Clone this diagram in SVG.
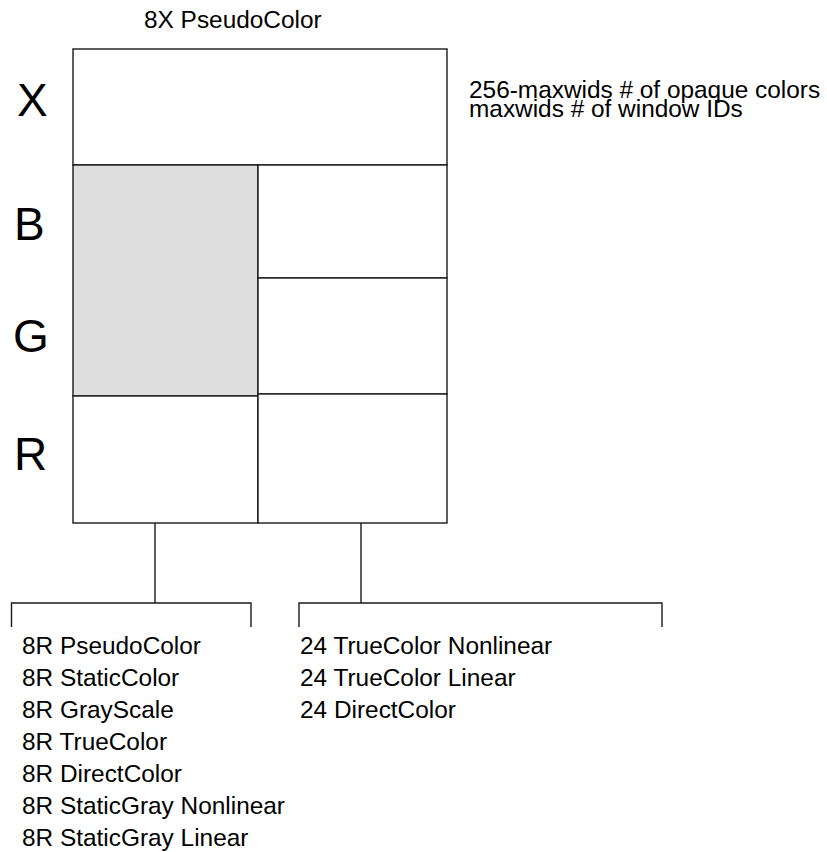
<svg xmlns="http://www.w3.org/2000/svg" width="827" height="852" viewBox="0 0 827 852">
  <style>
    .ln { fill: none; stroke: #1a1a1a; stroke-width: 1.4; }
    .cell { fill: #ffffff; stroke: #1a1a1a; stroke-width: 1.4; }
    .grey { fill: #dedede; stroke: #1a1a1a; stroke-width: 1.4; }
    .t { font-family: "Liberation Sans", Arial, Helvetica, sans-serif; font-size: 24.4px; fill: #000; }
    .big { font-family: "Liberation Sans", Arial, Helvetica, sans-serif; font-size: 46px; fill: #000; }
  </style>
  <rect width="827" height="852" fill="#ffffff"/>

  <g id="title">
    <text class="t" x="144" y="28">8X PseudoColor</text>
  </g>

  <g id="row-labels">
    <text class="big" x="17" y="116">X</text>
    <text class="big" x="14" y="240">B</text>
    <text class="big" x="13" y="352">G</text>
    <text class="big" x="14" y="470">R</text>
  </g>

  <g id="x-cell">
    <rect class="cell" x="73" y="49" width="374" height="116"/>
  </g>
  <g id="bg-8bit-cell">
    <rect class="grey" x="73" y="165" width="185" height="231"/>
  </g>
  <g id="r-8bit-cell">
    <rect class="cell" x="73" y="396" width="185" height="127"/>
  </g>
  <g id="b-24bit-cell">
    <rect class="cell" x="258" y="165" width="189" height="113"/>
  </g>
  <g id="g-24bit-cell">
    <rect class="cell" x="258" y="278" width="189" height="116"/>
  </g>
  <g id="r-24bit-cell">
    <rect class="cell" x="258" y="394" width="189" height="129"/>
  </g>

  <g id="x-note">
    <text class="t" x="469" y="98">256-maxwids # of opaque colors</text>
    <text class="t" x="469" y="117">maxwids # of window IDs</text>
  </g>

  <g id="connectors">
    <path class="ln" d="M155 523 V603"/>
    <path class="ln" d="M11.5 627 V603 H251 V627"/>
    <path class="ln" d="M361 523 V603"/>
    <path class="ln" d="M299 627 V603 H662 V627"/>
  </g>

  <g id="list-8bit">
    <text class="t" x="22" y="654">8R PseudoColor</text>
    <text class="t" x="22" y="686">8R StaticColor</text>
    <text class="t" x="22" y="718">8R GrayScale</text>
    <text class="t" x="22" y="750">8R TrueColor</text>
    <text class="t" x="22" y="782">8R DirectColor</text>
    <text class="t" x="22" y="814">8R StaticGray Nonlinear</text>
    <text class="t" x="22" y="846">8R StaticGray Linear</text>
  </g>

  <g id="list-24bit">
    <text class="t" x="300" y="654">24 TrueColor Nonlinear</text>
    <text class="t" x="300" y="686">24 TrueColor Linear</text>
    <text class="t" x="300" y="718">24 DirectColor</text>
  </g>
</svg>
